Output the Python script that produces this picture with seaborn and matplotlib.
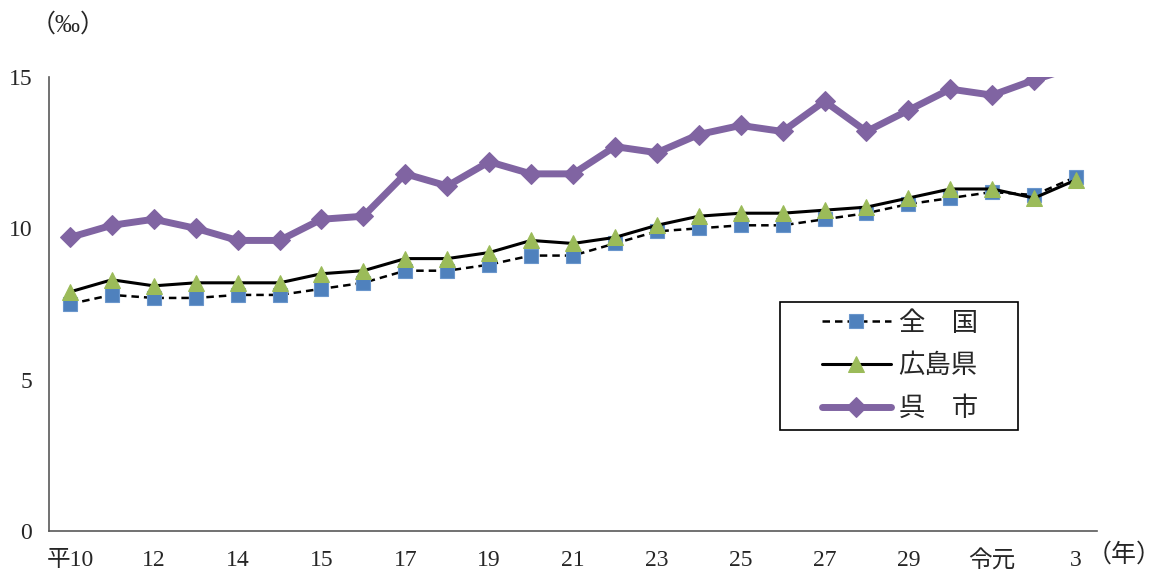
import numpy as np
import matplotlib
matplotlib.use('Agg')
import matplotlib.pyplot as plt
import seaborn as sns
from matplotlib.patches import Rectangle

# 表示ラベル (2年おき) と各系列の値 (‰)
tick_labels = ['平10', '12', '14', '15', '17', '19', '21', '23', '25', '27', '29', '令元', '3']
series_names = ['全\u3000国', '広島県', '呉\u3000市']

zenkoku = [7.5, 7.8, 7.7, 7.7, 7.8, 7.8, 8.0, 8.2, 8.6, 8.6, 8.8, 9.1, 9.1,
           9.5, 9.9, 10.0, 10.1, 10.1, 10.3, 10.5, 10.8, 11.0, 11.2, 11.1, 11.7]
hiroshima = [7.9, 8.3, 8.1, 8.2, 8.2, 8.2, 8.5, 8.6, 9.0, 9.0, 9.2, 9.6, 9.5,
             9.7, 10.1, 10.4, 10.5, 10.5, 10.6, 10.7, 11.0, 11.3, 11.3, 11.0, 11.6]
kure = [9.7, 10.1, 10.3, 10.0, 9.6, 9.6, 10.3, 10.4, 11.8, 11.4, 12.2, 11.8, 11.8,
        12.7, 12.5, 13.1, 13.4, 13.2, 14.2, 13.2, 13.9, 14.6, 14.4, 14.9, 15.35]

x = np.arange(len(kure))

sns.set_style('white')
plt.rcParams['font.family'] = ['Liberation Serif', 'Noto Sans CJK JP', 'DejaVu Sans']

W, H = 1164, 575
fig = plt.figure(figsize=(W / 100, H / 100), dpi=100)
ax = fig.add_axes([49 / W, 1 - 531 / H, (1097 - 49) / W, (531 - 77) / H])

sns.lineplot(x=x, y=zenkoku, ax=ax, color='black', linestyle=(0, (3, 2)), linewidth=1.8,
             marker='s', markersize=10, markerfacecolor='#4F81BD', markeredgecolor='#6A96CC',
             markeredgewidth=0.8, label=series_names[0])
sns.lineplot(x=x, y=hiroshima, ax=ax, color='black', linewidth=2.2,
             marker='^', markersize=12, markerfacecolor='#9BBB59', markeredgecolor='#9BBB59',
             label=series_names[1])
sns.lineplot(x=x, y=kure, ax=ax, color='#8064A2', linewidth=5,
             marker='D', markersize=10, markerfacecolor='#8064A2', markeredgecolor='#8064A2',
             label=series_names[2])

ax.set_xlim(-0.5, len(x) - 0.5)
ax.set_ylim(0, 15)
ax.set_yticks([0, 5, 10, 15])

# 目盛線は区切り位置、ラベルは2年おきの中央に
ax.set_xticks(np.arange(-0.5, len(x) - 0.5, 2))
ax.set_xticklabels([])
ax.set_xticks(x[::2], minor=True)
ax.set_xticklabels(tick_labels, minor=True)
ax.tick_params(axis='x', which='major', direction='in', length=6, width=1, color='#595959')
ax.tick_params(axis='x', which='minor', length=0, pad=14, labelsize=17)
ax.tick_params(axis='y', direction='out', length=4, width=1, color='#595959', pad=8, labelsize=17)
ax.set_xlabel('')
ax.set_ylabel('')

for side in ['top', 'right']:
    ax.spines[side].set_visible(False)
for side in ['left', 'bottom']:
    ax.spines[side].set_color('#595959')
    ax.spines[side].set_linewidth(1.2)

fig.text(68 / W, 1 - 25 / H, '（‰）', fontsize=18, ha='center', va='center')
fig.text(1162 / W, 1 - 555 / H, '（年）', fontsize=18, ha='right', va='center')

# 凡例 (枠は別に描く)
ax.add_patch(Rectangle((780 / W, 1 - 430 / H), 238 / W, 128 / H, transform=fig.transFigure,
                       facecolor='white', edgecolor='black', linewidth=1.2, zorder=5,
                       clip_on=False))
leg = ax.legend(loc='upper left', bbox_to_anchor=(822 / W, 1 - 311 / H),
                bbox_transform=fig.transFigure, borderaxespad=0, borderpad=0, fontsize=19,
                handlelength=2.6, labelspacing=0.68, frameon=False, handletextpad=0.3)
leg.set_zorder(6)

fig.savefig('out.png', dpi=100)
